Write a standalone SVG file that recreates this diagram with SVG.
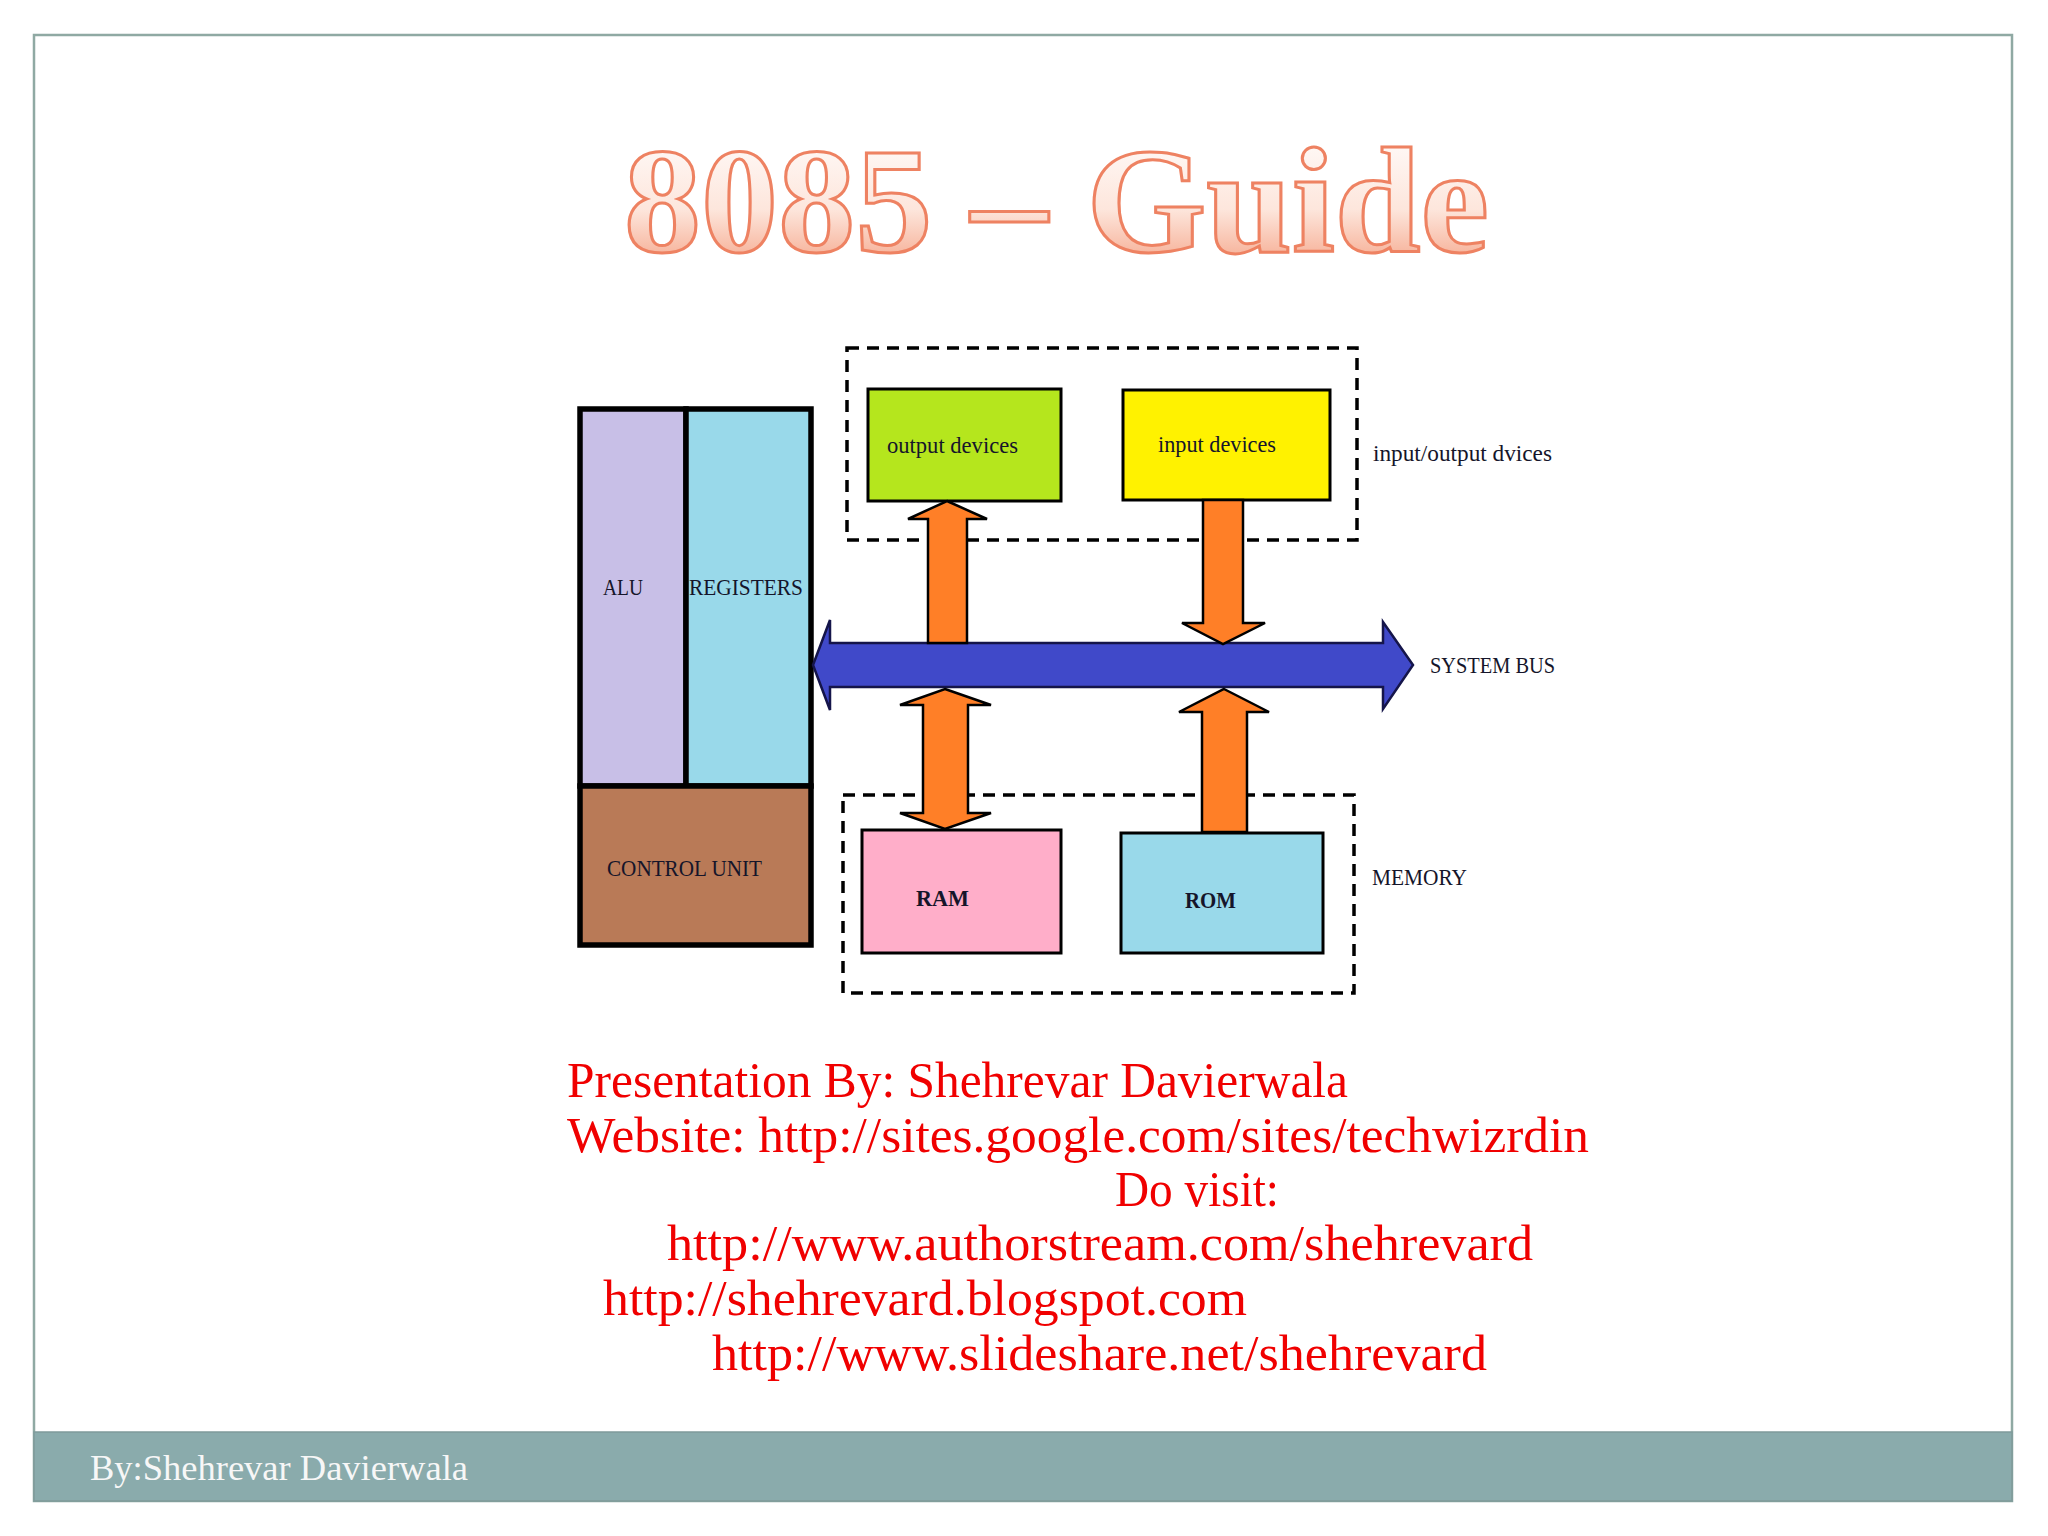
<svg xmlns="http://www.w3.org/2000/svg" width="2048" height="1536" viewBox="0 0 2048 1536">
<defs>
<linearGradient id="tg" x1="0" y1="0" x2="0" y2="1">
<stop offset="0" stop-color="#ffffff"/>
<stop offset="0.55" stop-color="#fde6dc"/>
<stop offset="1" stop-color="#f39676"/>
</linearGradient>
<style>
.lbl{font-family:"Liberation Serif","Times New Roman",serif;font-size:24px;fill:#15152a}
.blk{stroke:#000;stroke-width:3}
.cpu{stroke:#000;stroke-width:5.5}
.dash{fill:none;stroke:#000;stroke-width:3.5;stroke-dasharray:12 8}
.arr{fill:#ff7f27;stroke:#000;stroke-width:2.5;stroke-linejoin:miter}
.red{font-family:"Liberation Serif","Times New Roman",serif;font-size:50px;fill:#f00000}
</style>
</defs>
<rect x="0" y="0" width="2048" height="1536" fill="#ffffff"/>
<g id="frame">
<rect x="34" y="35" width="1978" height="1466" fill="none" stroke="#8fa9a3" stroke-width="2.5"/>
<rect x="34" y="1432" width="1978" height="69" fill="#8aabac" stroke="#7f9a9a" stroke-width="1.5"/>
<text x="90" y="1480" font-family="Liberation Serif, Times New Roman, serif" font-size="36" fill="#f7f7f7" textLength="378" lengthAdjust="spacingAndGlyphs">By:Shehrevar Davierwala</text>
</g>
<g id="title">
<text x="624" y="252" font-family="Liberation Serif, Times New Roman, serif" font-weight="bold" font-size="150" fill="url(#tg)" stroke="#ee8262" stroke-width="3" textLength="865" lengthAdjust="spacingAndGlyphs">8085 – Guide</text>
</g>
<g id="io-group">
<rect class="dash" x="847" y="348" width="510" height="192"/>
<text class="lbl" x="1373" y="461" textLength="179" lengthAdjust="spacingAndGlyphs">input/output dvices</text>
</g>
<g id="memory-group">
<rect class="dash" x="843" y="795" width="511" height="198"/>
<text class="lbl" x="1372" y="885" textLength="95" lengthAdjust="spacingAndGlyphs">MEMORY</text>
</g>
<g id="alu">
<rect class="cpu" x="580" y="409" width="106" height="377" fill="#c8bfe7"/>
<text class="lbl" x="603" y="595" textLength="40" lengthAdjust="spacingAndGlyphs">ALU</text>
</g>
<g id="registers">
<rect class="cpu" x="686" y="409" width="125" height="377" fill="#99d9ea"/>
<text class="lbl" x="689" y="595" textLength="114" lengthAdjust="spacingAndGlyphs">REGISTERS</text>
</g>
<g id="control-unit">
<rect class="cpu" x="580" y="786" width="231" height="159" fill="#b97a57"/>
<text class="lbl" x="607" y="876" textLength="155" lengthAdjust="spacingAndGlyphs">CONTROL UNIT</text>
</g>
<g id="output-devices">
<rect class="blk" x="868" y="389" width="193" height="112" fill="#b5e61d"/>
<text class="lbl" x="887" y="453" textLength="131" lengthAdjust="spacingAndGlyphs">output devices</text>
</g>
<g id="input-devices">
<rect class="blk" x="1123" y="390" width="207" height="110" fill="#fff200"/>
<text class="lbl" x="1158" y="452" textLength="118" lengthAdjust="spacingAndGlyphs">input devices</text>
</g>
<g id="ram">
<rect class="blk" x="862" y="830" width="199" height="123" fill="#ffaec9"/>
<text class="lbl" x="916" y="906" font-weight="bold" textLength="53" lengthAdjust="spacingAndGlyphs">RAM</text>
</g>
<g id="rom">
<rect class="blk" x="1121" y="833" width="202" height="120" fill="#99d9ea"/>
<text class="lbl" x="1185" y="908" font-weight="bold" textLength="51" lengthAdjust="spacingAndGlyphs">ROM</text>
</g>
<g id="system-bus">
<polygon points="813,665 830,620 830,643 1383,643 1383,622 1413,665 1383,709 1383,687 830,687 830,710" fill="#4049c9" stroke="#15154a" stroke-width="2.5"/>
<text class="lbl" x="1430" y="673" textLength="125" lengthAdjust="spacingAndGlyphs">SYSTEM BUS</text>
</g>
<g id="connectors">
<polygon class="arr" points="947,501 987,519 967,519 967,643 928,643 928,519 908,519"/>
<polygon class="arr" points="1203,500 1243,500 1243,623 1265,623 1223,644 1182,623 1203,623"/>
<polygon class="arr" points="945,689 991,705 968,705 968,813 991,813 945,829 900,813 923,813 923,705 900,705"/>
<polygon class="arr" points="1224,689 1269,712 1247,712 1247,832 1202,832 1202,712 1179,712"/>
</g>
<g id="credits">
<text class="red" x="567" y="1097" textLength="781" lengthAdjust="spacingAndGlyphs">Presentation By: Shehrevar Davierwala</text>
<text class="red" x="567" y="1152" textLength="1022" lengthAdjust="spacingAndGlyphs">Website: http://sites.google.com/sites/techwizrdin</text>
<text class="red" x="1115" y="1206" textLength="164" lengthAdjust="spacingAndGlyphs">Do visit:</text>
<text class="red" x="667" y="1260" textLength="866" lengthAdjust="spacingAndGlyphs">http://www.authorstream.com/shehrevard</text>
<text class="red" x="603" y="1315" textLength="644" lengthAdjust="spacingAndGlyphs">http://shehrevard.blogspot.com</text>
<text class="red" x="712" y="1370" textLength="775" lengthAdjust="spacingAndGlyphs">http://www.slideshare.net/shehrevard</text>
</g>
</svg>
